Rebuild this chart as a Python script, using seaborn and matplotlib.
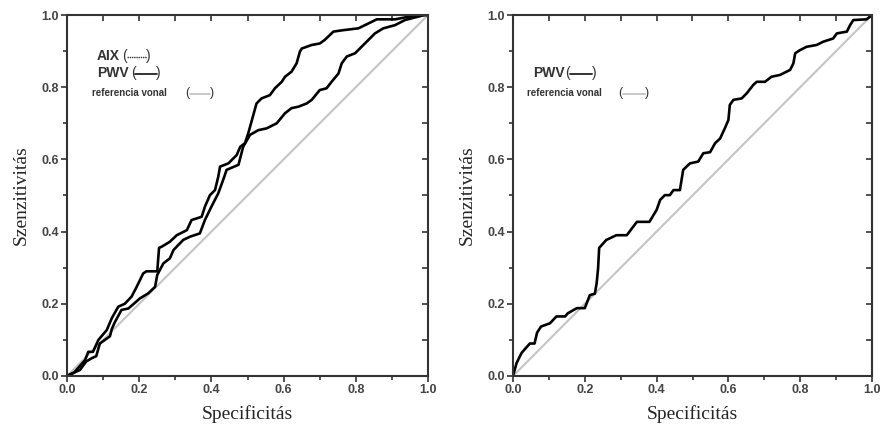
import matplotlib
matplotlib.use("Agg")
import matplotlib.pyplot as plt
from matplotlib.ticker import MultipleLocator
from matplotlib.lines import Line2D
import seaborn as sns
import pandas as pd

# ---- data ----
left_aix_x = [0.0, 0.02, 0.05, 0.059, 0.072, 0.087, 0.11, 0.124, 0.142, 0.16, 0.179, 0.193, 0.211,
              0.22, 0.25, 0.255, 0.262, 0.285, 0.304, 0.332, 0.345, 0.373, 0.382, 0.396, 0.41,
              0.419, 0.424, 0.447, 0.47, 0.48, 0.493, 0.502, 0.525, 0.539, 0.562, 0.576, 0.595,
              0.604, 0.622, 0.636, 0.645, 0.65, 0.678, 0.70, 0.714, 0.738, 0.765, 0.807, 0.844,
              0.858, 0.909, 0.945, 0.99, 1.0]
left_aix_y = [0.0, 0.01, 0.044, 0.067, 0.067, 0.10, 0.127, 0.16, 0.192, 0.20, 0.22, 0.247, 0.284,
              0.29, 0.29, 0.355, 0.358, 0.372, 0.39, 0.404, 0.432, 0.441, 0.469, 0.501, 0.515,
              0.552, 0.58, 0.589, 0.612, 0.635, 0.645, 0.672, 0.755, 0.769, 0.778, 0.797, 0.815,
              0.829, 0.843, 0.866, 0.898, 0.907, 0.917, 0.921, 0.931, 0.954, 0.958, 0.963, 0.981,
              0.988, 0.988, 0.995, 1.0, 1.0]
left_pwv_x = [0.0, 0.036, 0.053, 0.068, 0.081, 0.091, 0.119, 0.124, 0.133, 0.151, 0.17, 0.202,
              0.225, 0.244, 0.25, 0.258, 0.267, 0.285, 0.295, 0.322, 0.341, 0.368, 0.382, 0.40,
              0.419, 0.435, 0.442, 0.475, 0.488, 0.507, 0.53, 0.553, 0.581, 0.604, 0.622, 0.641,
              0.664, 0.678, 0.70, 0.719, 0.733, 0.752, 0.761, 0.775, 0.798, 0.816, 0.835, 0.853,
              0.876, 0.909, 0.936, 0.99, 1.0]
left_pwv_y = [0.0, 0.017, 0.04, 0.049, 0.055, 0.09, 0.11, 0.13, 0.15, 0.183, 0.187, 0.215,
              0.229, 0.247, 0.28, 0.295, 0.312, 0.326, 0.349, 0.377, 0.386, 0.395, 0.432, 0.469,
              0.506, 0.55, 0.571, 0.585, 0.635, 0.668, 0.681, 0.686, 0.70, 0.728, 0.742, 0.746,
              0.755, 0.765, 0.792, 0.797, 0.815, 0.838, 0.866, 0.885, 0.894, 0.912, 0.931, 0.949,
              0.963, 0.972, 0.986, 1.0, 1.0]
right_pwv_x = [0.0, 0.01, 0.024, 0.038, 0.047, 0.06, 0.067, 0.078, 0.103, 0.121, 0.145, 0.153, 0.178,
               0.20, 0.214, 0.228, 0.233, 0.237, 0.24, 0.26, 0.288, 0.317, 0.345, 0.38, 0.40, 0.41,
               0.423, 0.437, 0.447, 0.465, 0.474, 0.493, 0.516, 0.53, 0.549, 0.563, 0.577, 0.59,
               0.60, 0.604, 0.614, 0.637, 0.651, 0.669, 0.679, 0.702, 0.72, 0.744, 0.772, 0.781,
               0.786, 0.80, 0.818, 0.846, 0.864, 0.892, 0.902, 0.93, 0.939, 0.948, 0.985, 1.0]
right_pwv_y = [0.0, 0.036, 0.064, 0.08, 0.09, 0.09, 0.12, 0.137, 0.146, 0.165, 0.165, 0.174, 0.188,
               0.188, 0.224, 0.228, 0.257, 0.298, 0.355, 0.377, 0.39, 0.39, 0.427, 0.427, 0.46, 0.488,
               0.501, 0.501, 0.515, 0.515, 0.571, 0.589, 0.594, 0.617, 0.62, 0.645, 0.658, 0.686,
               0.709, 0.751, 0.765, 0.769, 0.783, 0.806, 0.815, 0.815, 0.829, 0.834, 0.848, 0.866,
               0.894, 0.903, 0.912, 0.917, 0.926, 0.935, 0.949, 0.954, 0.972, 0.986, 0.988, 1.0]
ref_x = [0.0, 1.0]
ref_y = [0.0, 1.0]
ticks = [0.0, 0.2, 0.4, 0.6, 0.8, 1.0]
tick_labels = ["0.0", "0.2", "0.4", "0.6", "0.8", "1.0"]
x_label = "Specificitás"
y_label = "Szenzitivitás"

sns.set_style("white")
plt.rcParams["font.family"] = ["Liberation Sans", "DejaVu Sans"]

fig = plt.figure(figsize=(8.86, 4.34), dpi=100)
axL = fig.add_axes([67/886, 1-376/434, 361/886, 361/434])
axR = fig.add_axes([513/886, 1-376/434, 359/886, 361/434])

ref_df = pd.DataFrame({"x": ref_x, "y": ref_y})
for ax in (axL, axR):
    sns.lineplot(data=ref_df, x="x", y="y", ax=ax, color="#c4c4c4", lw=1.5,
                 sort=False, estimator=None)

sns.lineplot(x=left_pwv_x, y=left_pwv_y, ax=axL, color="black", lw=1.9, sort=False, estimator=None)
sns.lineplot(x=left_aix_x, y=left_aix_y, ax=axL, color="black", lw=1.9, sort=False, estimator=None)
sns.lineplot(x=right_pwv_x, y=right_pwv_y, ax=axR, color="black", lw=1.9, sort=False, estimator=None)

for ax in (axL, axR):
    ax.set_xlim(0, 1)
    ax.set_ylim(0, 1)
    ax.xaxis.set_minor_locator(MultipleLocator(0.1))
    ax.yaxis.set_minor_locator(MultipleLocator(0.1))
    ax.set_xticks(ticks)
    ax.set_xticklabels(tick_labels)
    ax.set_yticks(ticks)
    ax.set_yticklabels(tick_labels)
    ax.tick_params(which="both", direction="out", bottom=True, left=True, top=False, right=False,
                   color="#333333", width=1.2)
    ax.tick_params(which="major", length=4, labelsize=9, labelcolor="#444444", pad=2)
    ax.tick_params(which="minor", length=3)
    for lab in ax.get_xticklabels() + ax.get_yticklabels():
        lab.set_fontweight("bold")
    secx = ax.secondary_xaxis("top")
    secx.xaxis.set_major_locator(MultipleLocator(0.1))
    secx.tick_params(direction="in", length=4, width=1.2, color="#333333", labeltop=False)
    secx.spines["top"].set_visible(False)
    secy = ax.secondary_yaxis("right")
    secy.yaxis.set_major_locator(MultipleLocator(0.1))
    secy.tick_params(direction="in", length=4, width=1.2, color="#333333", labelright=False)
    secy.spines["right"].set_visible(False)
    for s in ax.spines.values():
        s.set_visible(True)
        s.set_color("#333333")
        s.set_linewidth(1.5)
    ax.set_xlabel(x_label, fontsize=14, family="Liberation Serif", labelpad=6)
    ax.set_ylabel(y_label, fontsize=14, family="Liberation Serif", labelpad=8)

def legend_item(ax, label, tx, ty, lp, lx0, lx1, rp, style, size, psize):
    tr = ax.transAxes
    ax.text(tx, ty, label, transform=tr, ha="left", va="center", fontsize=size,
            fontweight="bold", color="#333333")
    ax.text(lp, ty, "(", transform=tr, ha="center", va="center", fontsize=psize,
            color="#333333")
    ax.text(rp, ty, ")", transform=tr, ha="center", va="center", fontsize=psize,
            color="#333333")
    ax.add_line(Line2D([lx0, lx1], [ty - 0.003, ty - 0.003], transform=tr, **style))

legend_item(axL, "AIX", 0.083, 0.886, 0.158, 0.165, 0.222, 0.226,
            dict(color="#333333", lw=1.0, ls=(0, (1, 0.6))), 10, 10)
legend_item(axL, "PWV", 0.083, 0.840, 0.183, 0.188, 0.250, 0.254,
            dict(color="#222222", lw=1.3), 10, 10)
legend_item(axL, "referencia vonal", 0.069, 0.784, 0.333, 0.341, 0.396, 0.401,
            dict(color="#c4c4c4", lw=1.3), 7, 9)
legend_item(axR, "PWV", 0.056, 0.840, 0.153, 0.159, 0.220, 0.225,
            dict(color="#222222", lw=1.3), 10, 10)
legend_item(axR, "referencia vonal", 0.039, 0.784, 0.298, 0.306, 0.368, 0.372,
            dict(color="#c4c4c4", lw=1.3), 7, 9)

fig.savefig("out.png", dpi=100)
